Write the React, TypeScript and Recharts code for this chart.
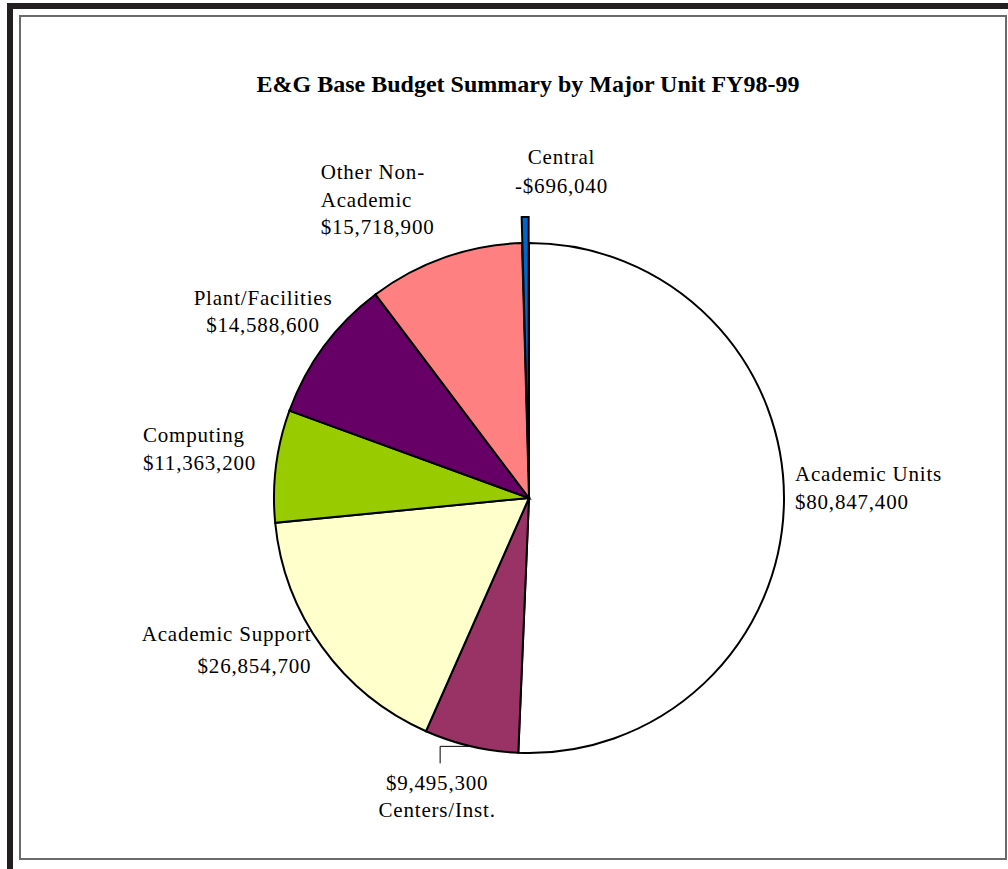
import { PieChart, Pie, Cell } from "recharts";

const UNITS = [
  "Academic Units",
  "Centers/Inst.",
  "Academic Support",
  "Computing",
  "Plant/Facilities",
  "Other Non-Academic",
  "Central",
];
const NAME_LINES = [
  ["Academic Units"],
  ["Centers/Inst."],
  ["Academic Support"],
  ["Computing"],
  ["Plant/Facilities"],
  ["Other Non-", "Academic"],
  ["Central"],
];
const BUDGET = [80847400, 9495300, 26854700, 11363200, 14588600, 15718900, -696040];
const COLORS = ["#FFFFFF", "#993366", "#FFFFCC", "#99CC00", "#660066", "#FF8080", "#0066CC"];
const EXPLODED = 6; // Central slice pulled out

const TITLE = "E&G Base Budget Summary by Major Unit FY98-99";

// label placement relative to the slice's outer edge at its mid angle
const LABEL_LAYOUT = [
  { dx: 11, dy: -29, anchor: "start", gap: 28, valueFirst: false, leader: false },
  { dx: -34, dy: 37, anchor: "middle", gap: 27, valueFirst: true, leader: true },
  { dx: -11, dy: -13, anchor: "end", gap: 32, valueFirst: false, leader: false },
  { dx: -133, dy: -31, anchor: "start", gap: 28, valueFirst: false, leader: false },
  { dx: -61, dy: -48, anchor: "middle", gap: 27, valueFirst: false, leader: false },
  { dx: -124, dy: -85, anchor: "start", gap: 27.5, valueFirst: false, leader: false },
  { dx: 36, dy: -86, anchor: "middle", gap: 29, valueFirst: false, leader: false },
];

const CX = 529;
const CY = 498;
const R = 255;
const EXPLODE_DIST = 26;
const RAD = Math.PI / 180;
const FONT = "'Liberation Serif', 'Times New Roman', serif";

const data = UNITS.map((name, i) => ({
  name,
  budget: BUDGET[i],
  size: Math.abs(BUDGET[i]),
}));

const fmt = (v: number) => (v < 0 ? "-$" : "$") + Math.abs(v).toLocaleString("en-US");

// mid angle of the exploded slice, same way recharts lays it out (clockwise from 90)
const total = data.reduce((s, d) => s + d.size, 0);
const before = data.slice(0, EXPLODED).reduce((s, d) => s + d.size, 0);
const explodedMid = 90 - ((before + data[EXPLODED].size / 2) / total) * 360;
const exCx = CX + EXPLODE_DIST * Math.cos(explodedMid * RAD);
const exCy = CY - EXPLODE_DIST * Math.sin(explodedMid * RAD);

function renderLabel(props: any) {
  const { cx, cy, midAngle, outerRadius, index } = props;
  const lay = LABEL_LAYOUT[index];
  const ex = cx + outerRadius * Math.cos(-midAngle * RAD);
  const ey = cy + outerRadius * Math.sin(-midAngle * RAD);
  const lx = ex + lay.dx;
  const ly = ey + lay.dy;
  const value = fmt(BUDGET[index]);
  const lines = lay.valueFirst ? [value, ...NAME_LINES[index]] : [...NAME_LINES[index], value];
  return (
    <g key={`lbl-${index}`}>
      {lay.leader && (
        <path
          d={`M${ex},${ey} H${lx + 3} V${ly - 20}`}
          fill="none"
          stroke="#000"
          strokeWidth={1}
        />
      )}
      <text
        x={lx}
        y={ly}
        textAnchor={lay.anchor}
        fontFamily={FONT}
        fontSize={21}
        letterSpacing={0.8}
        fill="#000"
      >
        {lines.map((t, k) => (
          <tspan key={k} x={lx} y={ly + k * lay.gap} dominantBaseline="central">
            {t}
          </tspan>
        ))}
      </text>
    </g>
  );
}

export default function App() {
  return (
    <div
      style={{
        position: "absolute",
        left: 0,
        top: 0,
        width: 1008,
        height: 869,
        overflow: "hidden",
        background: "#fff",
      }}
    >
      <svg width={1008} height={869} style={{ position: "absolute", left: 0, top: 0 }}>
        <rect x={10} y={6} width={1010} height={866} fill="none" stroke="#231f20" strokeWidth={6} />
        <rect x={20} y={16} width={986} height={843} fill="none" stroke="#6b6b6b" strokeWidth={2} />
        <text
          x={528}
          y={84}
          textAnchor="middle"
          dominantBaseline="central"
          fontFamily={FONT}
          fontWeight="bold"
          fontSize={24}
          fill="#000"
        >
          {TITLE}
        </text>
      </svg>
      <div style={{ position: "absolute", left: 0, top: 0 }}>
        <PieChart width={1008} height={869} margin={{ top: 0, right: 0, bottom: 0, left: 0 }}>
          <Pie
            data={data}
            dataKey="size"
            nameKey="name"
            cx={CX}
            cy={CY}
            outerRadius={R}
            startAngle={90}
            endAngle={-270}
            stroke="#000"
            strokeWidth={2}
            label={renderLabel}
            labelLine={false}
            isAnimationActive={false}
          >
            {data.map((d, i) => (
              <Cell
                key={d.name}
                fill={i === EXPLODED ? "none" : COLORS[i]}
                stroke={i === EXPLODED ? "none" : "#000"}
              />
            ))}
          </Pie>
          <Pie
            data={data}
            dataKey="size"
            nameKey="name"
            cx={exCx}
            cy={exCy}
            outerRadius={R}
            startAngle={90}
            endAngle={-270}
            stroke="#000"
            strokeWidth={2}
            labelLine={false}
            isAnimationActive={false}
          >
            {data.map((d, i) => (
              <Cell
                key={d.name}
                fill={i === EXPLODED ? COLORS[i] : "none"}
                stroke={i === EXPLODED ? "#000" : "none"}
              />
            ))}
          </Pie>
        </PieChart>
      </div>
    </div>
  );
}
